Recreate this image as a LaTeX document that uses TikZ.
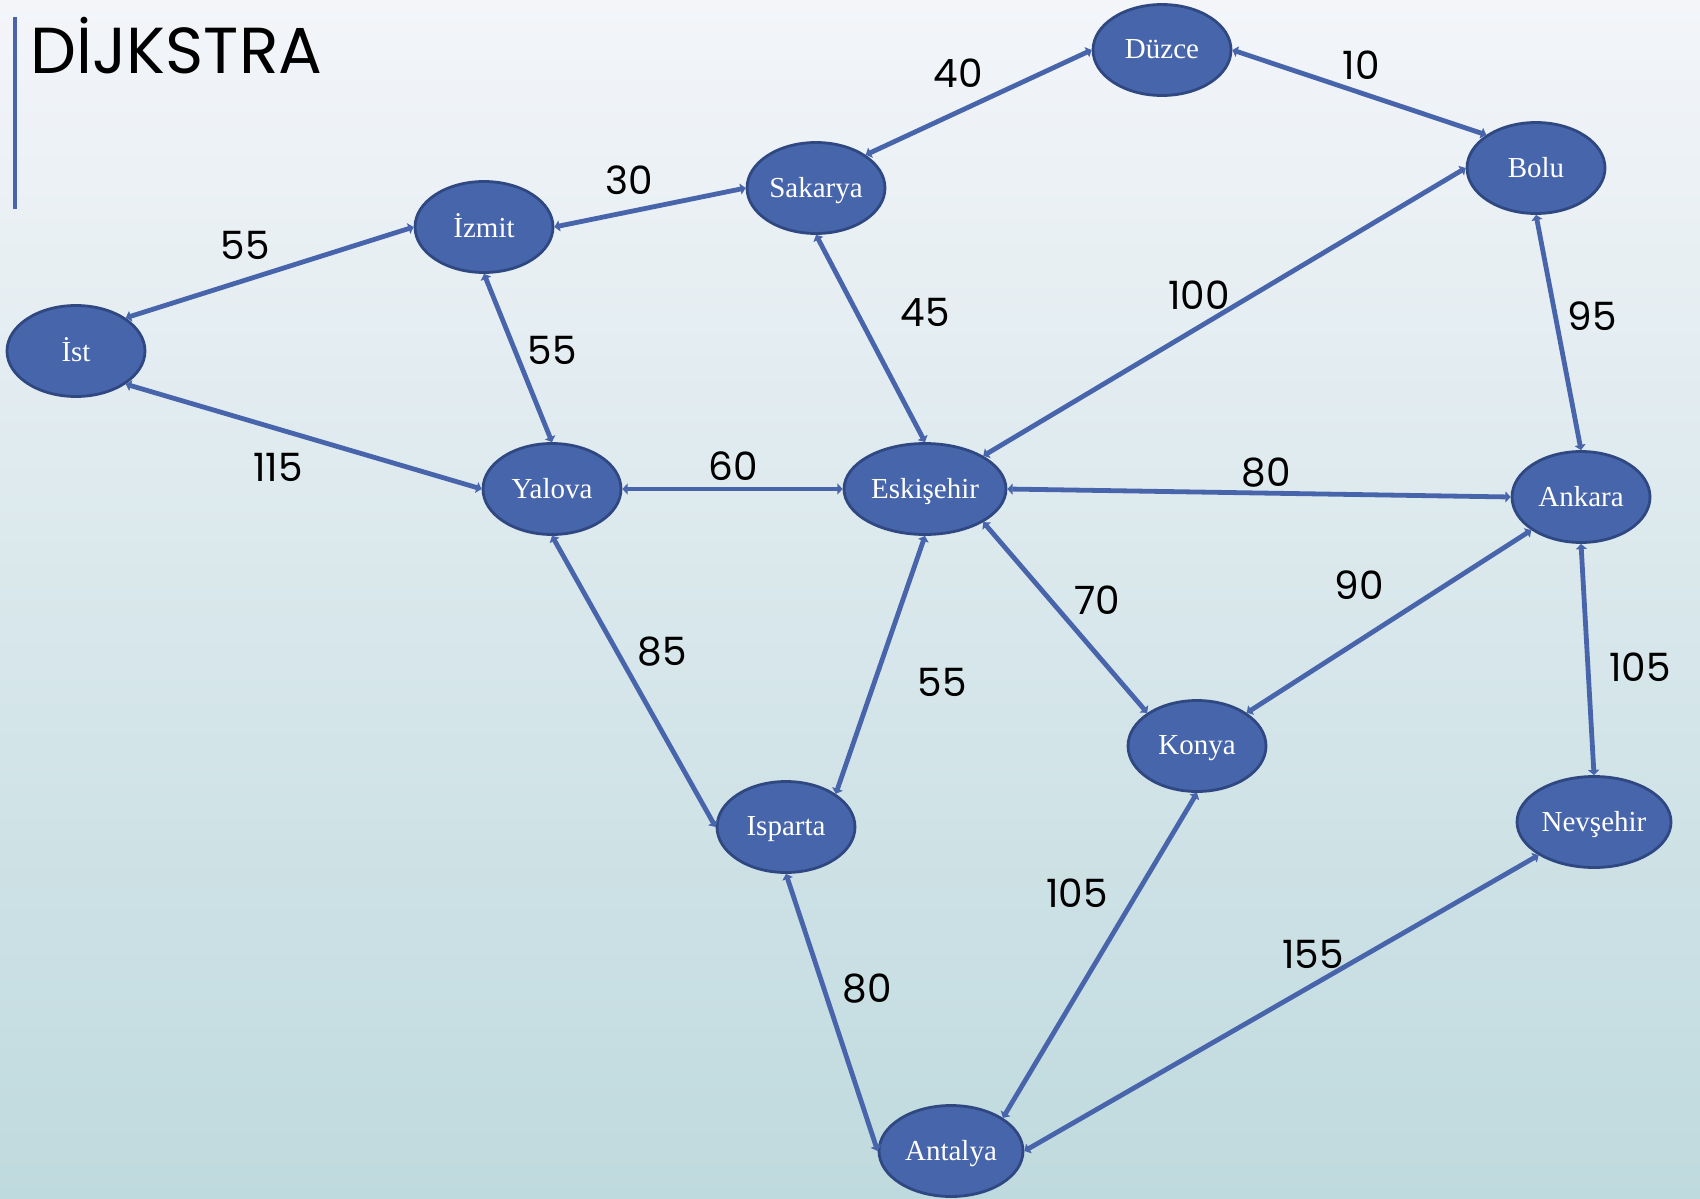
\documentclass[tikz,border=0pt]{standalone}
\usepackage{fontspec}
\setmainfont{Liberation Serif}
\newfontfamily\labelfont{Poppins}
\usetikzlibrary{shapes.geometric,arrows.meta}
\definecolor{bgtop}{RGB}{243,245,249}
\definecolor{bgbot}{RGB}{191,218,222}
\definecolor{nodefill}{RGB}{71,101,171}
\definecolor{nodeedge}{RGB}{47,72,130}
\definecolor{edgeblue}{RGB}{72,101,172}

\begin{document}
\begin{tikzpicture}[x=0.5pt,y=-0.5pt,
  city/.style={ellipse, fill=nodefill, draw=nodeedge, line width=1.4pt,
    minimum width=69pt, minimum height=45.5pt, inner sep=0pt,
    text=white, font=\fontsize{14.5}{16}\selectfont, text depth=1pt},
  road/.style={draw=edgeblue, line width=2.4pt,
    {Triangle[width=5.5pt,length=2.6pt]}-{Triangle[width=5.5pt,length=2.6pt]}},
  weight/.style={font=\labelfont\fontsize{19.5}{22}\selectfont, text=black, inner sep=0pt}]

% background
\shade[top color=bgtop, bottom color=bgbot] (0,0) rectangle (1700,1198);
\useasboundingbox (0,0) rectangle (1700,1198);

% title with accent bar
\draw[edgeblue, line width=2pt] (15,17) -- (15,209);
\node[anchor=base west, inner sep=0pt, font=\labelfont\fontsize{32.5}{40}\selectfont] (title) at (30,74) {DİJKSTRA};

% cities
\node[city] (duz) at (1162,50) {Düzce};
\node[city] (bol) at (1536,168) {Bolu};
\node[city] (sak) at (816,188) {Sakarya};
\node[city] (izm) at (484,227) {İzmit};
\node[city] (ist) at (76,351) {İst};
\node[city] (yal) at (552,489) {Yalova};
\node[city, minimum width=81pt] (esk) at (925,489) {Eskişehir};
\node[city] (ank) at (1581,497) {Ankara};
\node[city] (kon) at (1197,746) {Konya};
\node[city] (isp) at (786,827) {Isparta};
\node[city, minimum width=77pt] (nev) at (1594,822) {Nevşehir};
\node[city, minimum width=72pt] (ant) at (951,1151) {Antalya};

% roads
\draw[road] (ist.north east) -- (izm.west);
\draw[road] (ist.south east) -- (yal.west);
\draw[road] (izm.east) -- (sak.west);
\draw[road] (izm.south) -- (yal.north);
\draw[road] (sak.north east) -- (duz.west);
\draw[road] (sak.south) -- (esk.north);
\draw[road] (duz.east) -- (bol.north west);
\draw[road] (bol.west) -- (esk.north east);
\draw[road] (bol.south) -- (ank.north);
\draw[road] (yal.east) -- (esk.west);
\draw[road] (esk.east) -- (ank.west);
\draw[road] (esk.south east) -- (kon.north west);
\draw[road] (esk.south) -- (isp.north east);
\draw[road] (yal.south) -- (isp.west);
\draw[road] (ank.south west) -- (kon.north east);
\draw[road] (ank.south) -- (nev.north);
\draw[road] (kon.south) -- (ant.north east);
\draw[road] (isp.south) -- (ant.west);
\draw[road] (nev.south west) -- (ant.east);

% distances
\node[weight] (w1) at (958,73) {40};
\node[weight] (w2) at (1361,65) {10};
\node[weight] (w3) at (629,180) {30};
\node[weight] (w4) at (245,245) {55};
\node[weight] (w5) at (552,350) {55};
\node[weight] (w6) at (925,312) {45};
\node[weight] (w7) at (1199,295) {100};
\node[weight] (w8) at (1592,316) {95};
\node[weight] (w9) at (278,467) {115};
\node[weight] (w10) at (733,466) {60};
\node[weight] (w11) at (1266,473) {80};
\node[weight] (w12) at (1359,585) {90};
\node[weight] (w13) at (1097,600) {70};
\node[weight] (w14) at (662,652) {85};
\node[weight] (w15) at (942,682) {55};
\node[weight] (w16) at (1640,667) {105};
\node[weight] (w17) at (1077,893) {105};
\node[weight] (w18) at (1313,954) {155};
\node[weight] (w19) at (867,989) {80};
\end{tikzpicture}
\end{document}
